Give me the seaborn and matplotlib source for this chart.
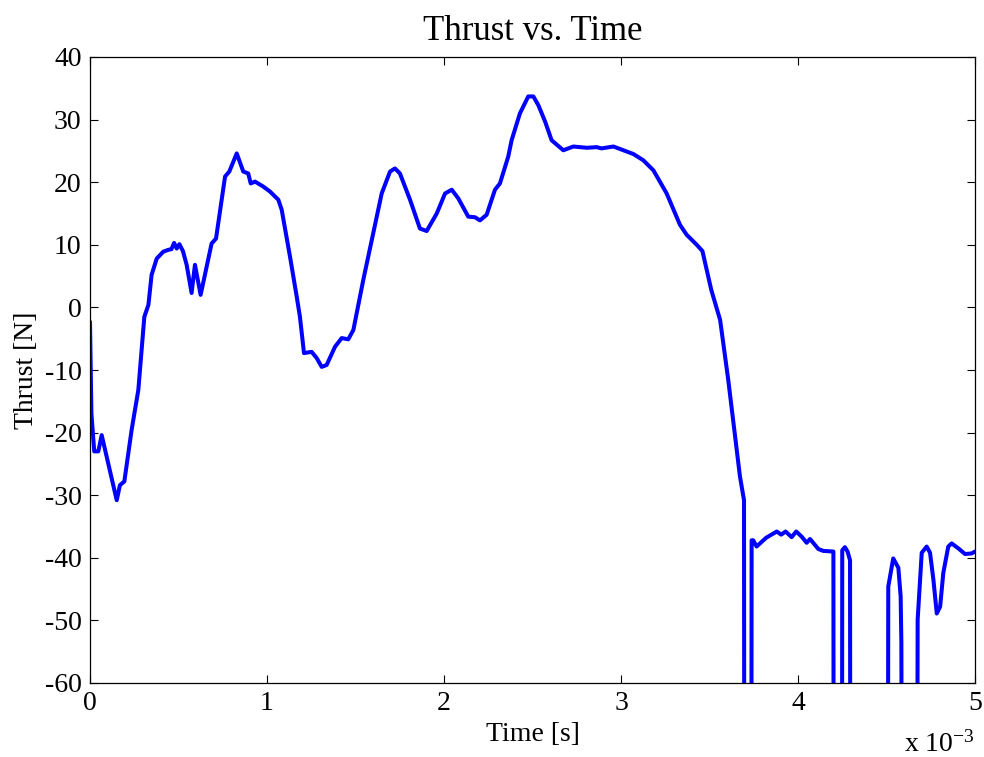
import matplotlib
matplotlib.use("Agg")
import matplotlib.pyplot as plt
import seaborn as sns
import pandas as pd

# ---- data (time in units of 1e-3 s, thrust in N) ----
time_ms = [0.0, 0.008, 0.024, 0.047, 0.066, 0.151, 0.169, 0.194, 0.235, 0.273,
           0.307, 0.33, 0.348, 0.377, 0.414, 0.443, 0.46, 0.475, 0.49, 0.505,
           0.525, 0.546, 0.574, 0.593, 0.625, 0.659, 0.687, 0.712, 0.763, 0.787,
           0.829, 0.866, 0.894, 0.908, 0.932, 0.979, 1.017, 1.064, 1.083, 1.13,
           1.168, 1.186, 1.209, 1.252, 1.281, 1.309, 1.337, 1.384, 1.422, 1.459,
           1.488, 1.544, 1.592, 1.648, 1.695, 1.723, 1.751, 1.808, 1.864, 1.902,
           1.959, 2.006, 2.044, 2.081, 2.137, 2.175, 2.203, 2.241, 2.288, 2.316,
           2.363, 2.382, 2.429, 2.476, 2.505, 2.533, 2.571, 2.608, 2.674, 2.731,
           2.806, 2.863, 2.89, 2.957, 3.013, 3.07, 3.126, 3.183, 3.258, 3.333,
           3.371, 3.428, 3.46, 3.51, 3.56, 3.606, 3.64, 3.672, 3.695, 3.697,
           3.736, 3.738, 3.747, 3.766, 3.82, 3.88, 3.905, 3.93, 3.964, 3.99,
           4.02, 4.049, 4.068, 4.115, 4.143, 4.2, 4.202, 4.248, 4.25, 4.265,
           4.28, 4.294, 4.296, 4.507, 4.51, 4.538, 4.567, 4.58, 4.584, 4.588,
           4.672, 4.676, 4.699, 4.727, 4.746, 4.765, 4.784, 4.803, 4.821, 4.849,
           4.868, 4.906, 4.944, 4.981, 5.0]
thrust_n = [-2.3, -17.0, -23.0, -23.0, -20.4, -30.8, -28.4, -27.8, -19.6, -13.2,
            -1.5, 0.4, 5.2, 7.8, 8.9, 9.2, 9.3, 10.3, 9.4, 10.1,
            9.0, 6.8, 2.3, 6.8, 2.0, 6.5, 10.2, 11.0, 20.9, 21.7,
            24.6, 21.7, 21.4, 19.8, 20.1, 19.3, 18.5, 17.2, 15.6, 8.1,
            1.7, -1.5, -7.3, -7.1, -8.1, -9.5, -9.2, -6.3, -4.9, -5.1,
            -3.6, 4.4, 10.8, 18.2, 21.7, 22.2, 21.4, 17.2, 12.6, 12.2,
            15.0, 18.2, 18.8, 17.4, 14.5, 14.4, 13.9, 14.8, 18.8, 19.8,
            24.1, 26.7, 31.0, 33.7, 33.7, 32.3, 29.7, 26.7, 25.1, 25.7,
            25.5, 25.6, 25.4, 25.7, 25.1, 24.5, 23.5, 21.9, 18.2, 13.2,
            11.6, 10.0, 9.0, 2.8, -2.0, -11.6, -19.6, -27.0, -30.8, -100.0,
            -100.0, -37.2, -37.2, -38.2, -36.8, -35.8, -36.3, -35.8, -36.7, -35.8,
            -36.6, -37.6, -37.0, -38.6, -38.9, -39.0, -100.0, -100.0, -38.8, -38.3,
            -39.0, -40.4, -100.0, -100.0, -44.6, -40.1, -41.6, -46.2, -53.6, -100.0,
            -100.0, -49.9, -39.2, -38.2, -39.2, -43.5, -48.9, -47.8, -42.4, -38.2,
            -37.7, -38.5, -39.4, -39.3, -39.0]
x_ticks = [0, 1, 2, 3, 4, 5]
y_ticks = [-60, -50, -40, -30, -20, -10, 0, 10, 20, 30, 40]

df = pd.DataFrame({"t": time_ms, "thrust": thrust_n})

sns.set_theme(style="white")
plt.rcParams["font.family"] = ["Liberation Serif", "DejaVu Serif"]
plt.rcParams["mathtext.fontset"] = "custom"
plt.rcParams["mathtext.rm"] = "Liberation Serif"
plt.rcParams["mathtext.it"] = "Liberation Serif:italic"

fig = plt.figure(figsize=(9.84, 7.57), dpi=100)
ax = fig.add_axes([90 / 984, 74 / 757, 885 / 984, 626 / 757])

sns.lineplot(data=df, x="t", y="thrust", sort=False, estimator=None,
             color="#0000ff", linewidth=2.9, ax=ax,
             solid_joinstyle="round", solid_capstyle="round")

ax.set_xlim(0, 5)
ax.set_ylim(-60, 40)
ax.set_xticks(x_ticks)
ax.set_yticks(y_ticks)
ax.set_xticklabels([str(v) for v in x_ticks])
ax.set_yticklabels([str(v) for v in y_ticks])
ax.tick_params(direction="in", length=6, width=0.8, color="black",
               labelsize=20, top=True, right=True, bottom=True, left=True,
               pad=6, labelcolor="black")
for s in ax.spines.values():
    s.set_visible(True)
    s.set_color("black")
    s.set_linewidth(0.9)

ax.set_title("Thrust vs. Time", fontsize=25, pad=12, color="black")
ax.set_xlabel("Time [s]", fontsize=20, labelpad=4, color="black")
ax.set_ylabel("Thrust [N]", fontsize=20, labelpad=4, color="black")

fig.text(975 / 984, 5 / 757, r"x 10$^{-3}$", fontsize=20, ha="right",
         va="baseline", color="black")

fig.savefig("out.png", dpi=100, facecolor="white")
